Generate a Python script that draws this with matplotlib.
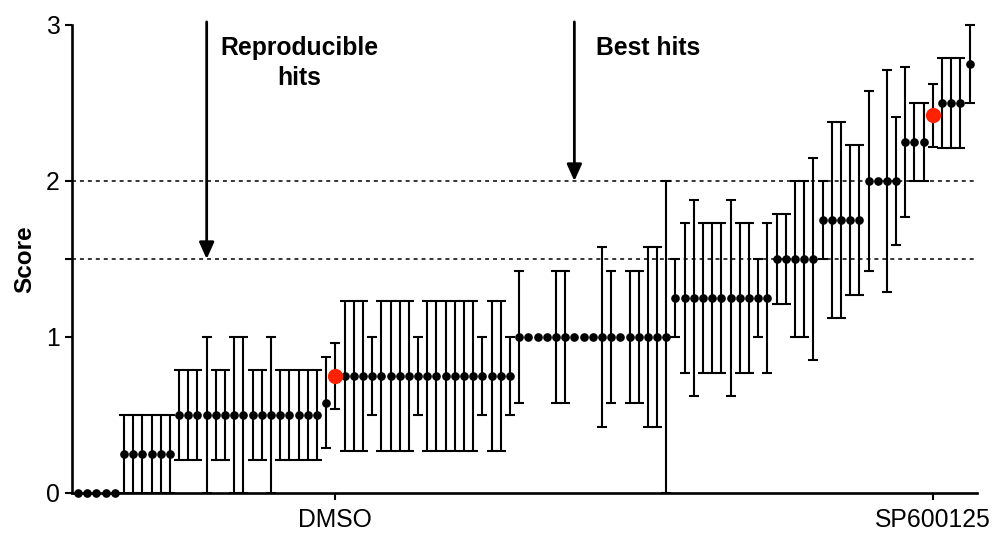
import numpy as np
import matplotlib
matplotlib.use("Agg")
import matplotlib.pyplot as plt

plt.rcParams['font.family'] = ['Liberation Sans', 'DejaVu Sans']

# ---- data (sorted compounds) ----
scores = [
    0, 0, 0, 0, 0,
    0.25, 0.25, 0.25, 0.25, 0.25, 0.25,
    0.5, 0.5, 0.5, 0.5, 0.5, 0.5, 0.5, 0.5, 0.5, 0.5, 0.5, 0.5, 0.5, 0.5, 0.5, 0.5,
    0.58,
    0.75,
    0.75, 0.75, 0.75, 0.75, 0.75, 0.75, 0.75, 0.75, 0.75, 0.75, 0.75, 0.75, 0.75,
    0.75, 0.75, 0.75, 0.75, 0.75, 0.75,
    1.0, 1.0, 1.0, 1.0, 1.0, 1.0, 1.0, 1.0, 1.0, 1.0, 1.0, 1.0, 1.0, 1.0, 1.0,
    1.0, 1.0,
    1.25, 1.25, 1.25, 1.25, 1.25, 1.25, 1.25, 1.25, 1.25, 1.25, 1.25,
    1.5, 1.5, 1.5, 1.5, 1.5,
    1.75, 1.75, 1.75, 1.75, 1.75,
    2.0, 2.0, 2.0, 2.0,
    2.25, 2.25, 2.25,
    2.42,
    2.5, 2.5, 2.5,
    2.75,
]
errors = [
    0, 0, 0, 0, 0,
    0.25, 0.25, 0.25, 0.25, 0.25, 0.25,
    0.29, 0.29, 0.29, 0.5, 0.29, 0.29, 0.5, 0.5, 0.29, 0.29, 0.5, 0.29, 0.29, 0.29, 0.29, 0.29,
    0.29,
    0.21,
    0.48, 0.48, 0.48, 0.25, 0.48, 0.48, 0.48, 0.48, 0.25, 0.48, 0.48, 0.48, 0.48,
    0.48, 0.48, 0.25, 0.48, 0.48, 0.25,
    0.42, 0, 0, 0, 0.42, 0.42, 0, 0, 0, 0.58, 0.42, 0, 0.42, 0.42, 0.58,
    0.58, 1.0,
    0.25, 0.48, 0.63, 0.48, 0.48, 0.48, 0.63, 0.48, 0.48, 0.25, 0.48,
    0.29, 0.29, 0.5, 0.5, 0.65,
    0.25, 0.63, 0.63, 0.48, 0.48,
    0.58, 0, 0.71, 0.41,
    0.48, 0.25, 0.25,
    0.2,
    0.29, 0.29, 0.29,
    0.25,
]
control_idx = [28, 93]
control_names = ["DMSO", "SP600125"]
thresholds = [1.5, 2.0]
y_ticks = [0, 1, 2, 3]
arrow_labels = ["Reproducible\nhits", "Best hits"]
arrow_idx = [14, 54]
arrow_tip = [1.5, 2.0]

# ---- figure ----
fig = plt.figure(figsize=(9.96, 5.36), dpi=100)
ax = fig.add_axes([72 / 996, 43 / 536, (977 - 72) / 996, (493 - 25) / 536])

x = np.arange(len(scores))
y = np.array(scores)
e = np.array(errors)
has_err = e > 0

ax.errorbar(x[has_err], y[has_err], yerr=e[has_err], fmt='none', ecolor='black',
            elinewidth=1.5, capsize=3.3, capthick=1.5, zorder=2, clip_on=False)

black = np.ones(len(x), dtype=bool)
black[control_idx] = False
ax.plot(x[black], y[black], 'o', color='black', ms=5.2, zorder=4, clip_on=False)
ax.plot(x[control_idx], y[control_idx], 'o', color='#FF2200', ms=11, zorder=5,
        clip_on=False, markeredgewidth=0)

for t in thresholds:
    ax.axhline(t, color='black', lw=1.1, ls=(0, (2.6, 2.6)), zorder=1)

ax.set_xlim(-0.65, 97.8)
ax.set_ylim(0, 3)

ax.spines['top'].set_visible(False)
ax.spines['right'].set_visible(False)
for s in ('left', 'bottom'):
    ax.spines[s].set_linewidth(1.9)

ax.set_yticks(y_ticks)
ax.set_yticks([1.5], minor=True)
ax.set_yticklabels([str(v) for v in y_ticks])
ax.set_xticks(control_idx)
ax.set_xticklabels(control_names)
ax.tick_params(axis='both', which='both', direction='out', length=5, width=1.5,
               labelsize=17.8, pad=4)
ax.tick_params(axis='x', pad=6)

ax.set_ylabel("Score", fontsize=17.5, fontweight='bold', labelpad=7)

# arrows and labels
for xi, tip in zip(arrow_idx, arrow_tip):
    ax.annotate('', xy=(xi, tip), xytext=(xi, 3.02),
                arrowprops=dict(arrowstyle='-|>,head_length=1.0,head_width=0.45',
                                lw=2, color='black', shrinkA=0, shrinkB=0),
                annotation_clip=False)

ax.text(24.1, 2.93, arrow_labels[0], ha='center', va='top', fontsize=17.8,
        fontweight='bold', linespacing=1.3)
ax.text(56.4, 2.93, arrow_labels[1], ha='left', va='top', fontsize=17.8,
        fontweight='bold')

fig.savefig("out.png", dpi=100)
